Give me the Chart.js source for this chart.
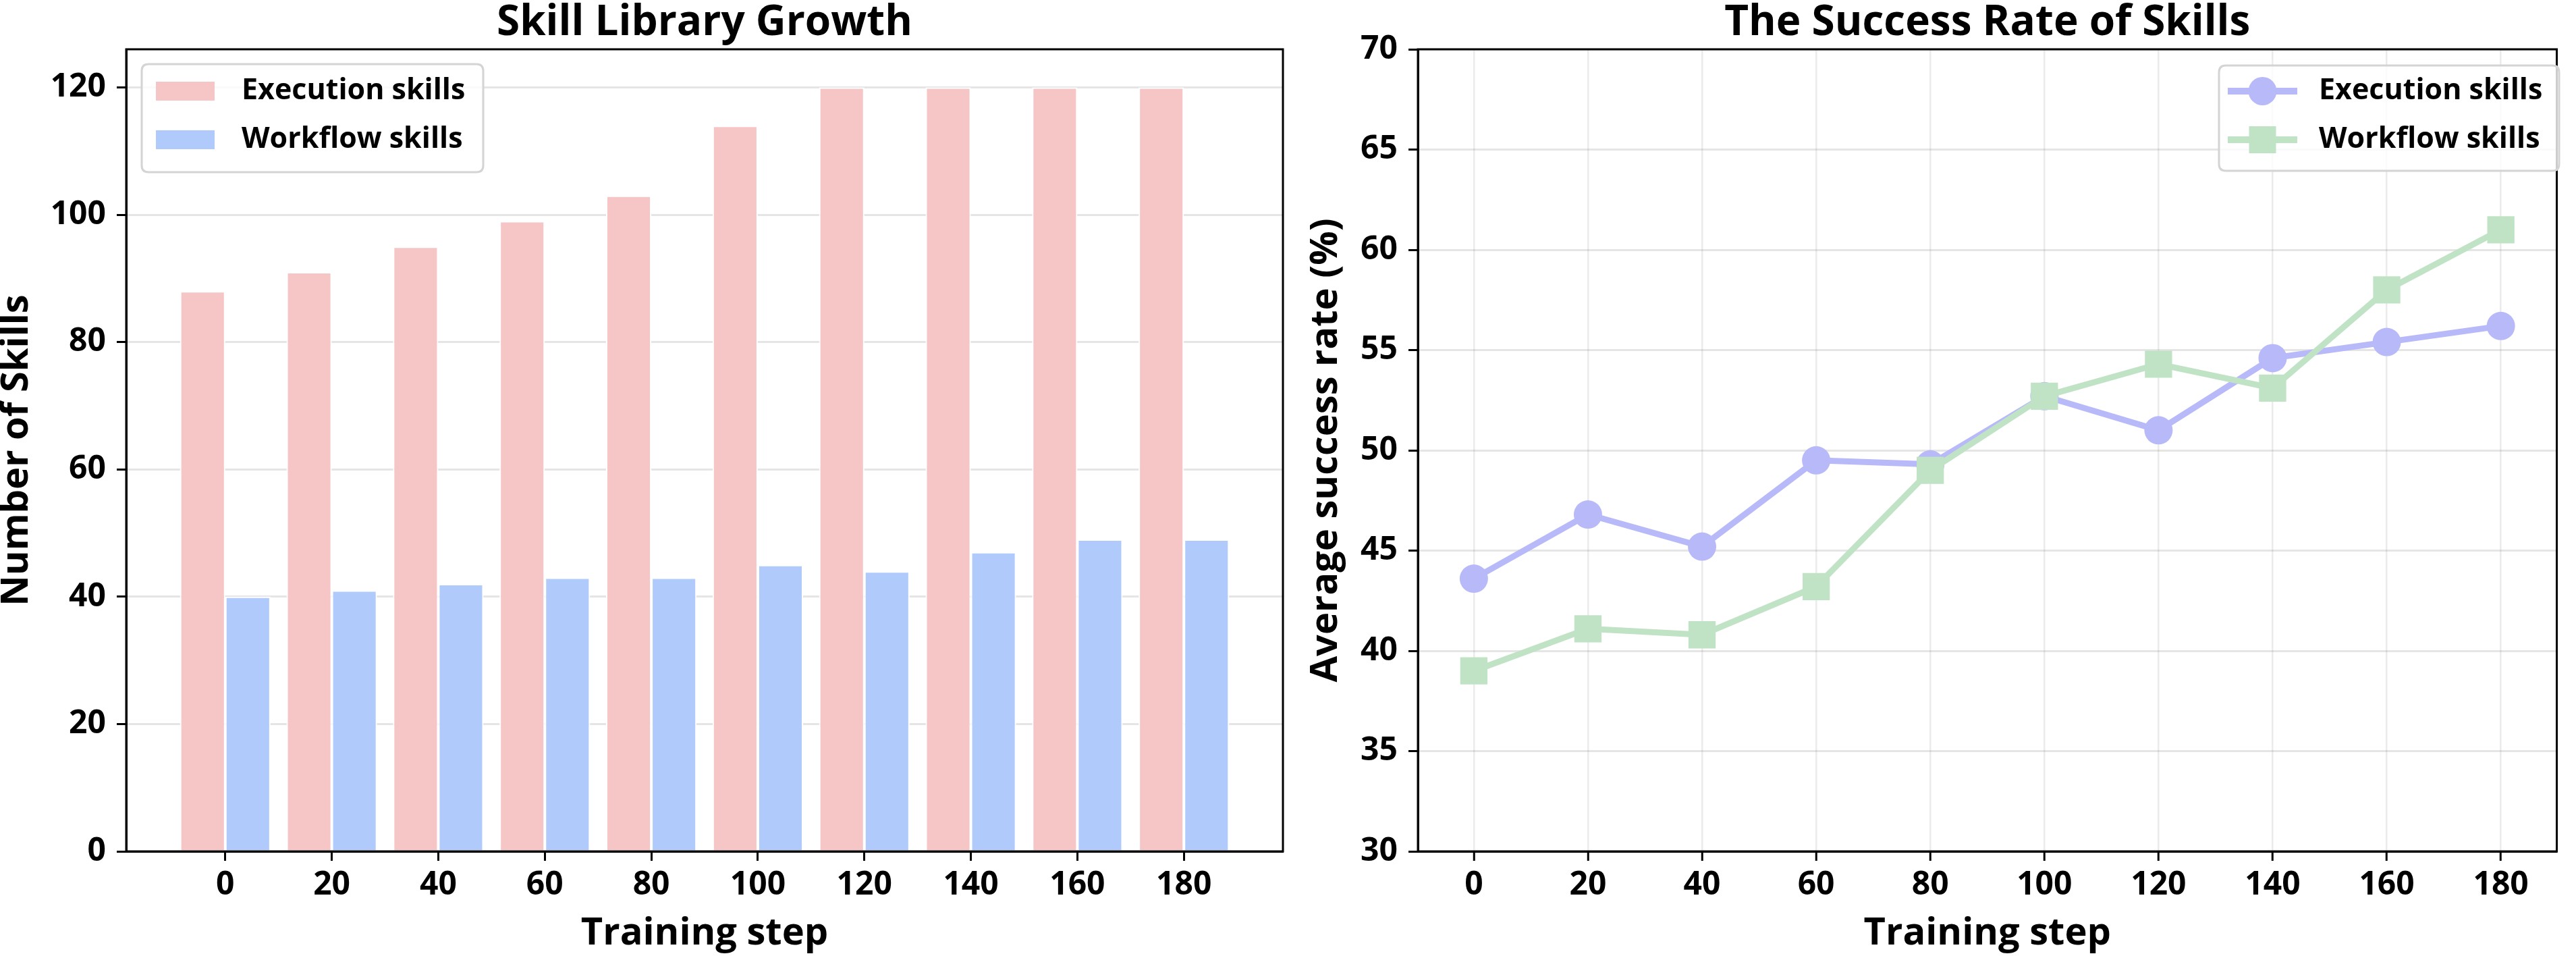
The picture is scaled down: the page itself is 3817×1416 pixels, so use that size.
<!DOCTYPE html>
<html><head><meta charset="utf-8">
<script src="https://cdn.jsdelivr.net/npm/chart.js@4.4.1/dist/chart.umd.min.js"></script>
<style>
html,body{margin:0;padding:0;background:#fff;}
body{width:3817px;height:1416px;position:relative;overflow:hidden;}
.box{position:absolute;top:0;height:1416px;}
#b1{left:0;width:1930px;}
#b2{left:1930px;width:1887px;}
canvas{display:block;}
</style></head><body>
<div class="box" id="b1"><canvas id="c1" width="1930" height="1416"></canvas></div>
<div class="box" id="b2"><canvas id="c2" width="1887" height="1416"></canvas></div>
<script>
// ---- data ----
const steps = ['0','20','40','60','80','100','120','140','160','180'];
const execSkills = [88, 91, 95, 99, 103, 114, 120, 120, 120, 120];
const workflowSkills = [40, 41, 42, 43, 43, 45, 44, 47, 49, 49];
const execRate = [43.6, 46.8, 45.2, 49.5, 49.3, 52.7, 51.0, 54.6, 55.4, 56.2];
const workflowRate = [39.0, 41.1, 40.8, 43.2, 49.0, 52.7, 54.3, 53.1, 58.0, 61.0];
const countTicks = [0, 20, 40, 60, 80, 100, 120];
const rateTicks = [30, 35, 40, 45, 50, 55, 60, 65, 70];
const seriesNames = ['Execution skills', 'Workflow skills'];

// ---- style ----
const FONT = "'Open Sans', 'DejaVu Sans', sans-serif";
const C_EXEC_BAR = '#F6C6C7';
const C_WF_BAR = '#B0CBFB';
const C_EXEC_LINE = '#B7B9F9';
const C_WF_LINE = '#C0E3C5';

const toXY = arr => arr.map((v, i) => ({x: i, y: v}));
const tickFont = {family: FONT, size: 48, weight: 'bold'};
const axisTitleFont = {family: FONT, size: 56, weight: 'bold', lineHeight: 0.9};

const titlePlugin = {
  id: 'ttl',
  afterDraw(chart, args, opts) {
    const ctx = chart.ctx, a = chart.chartArea;
    ctx.save();
    ctx.font = `bold 62px ${FONT}`;
    ctx.fillStyle = '#000';
    ctx.textAlign = 'center';
    ctx.textBaseline = 'alphabetic';
    ctx.fillText(opts.text, (a.left + a.right) / 2, 52);
    ctx.restore();
  }
};

const framePlugin = {
  id: 'frame',
  afterDraw(chart) {
    const ctx = chart.ctx, a = chart.chartArea;
    ctx.save();
    ctx.strokeStyle = '#000';
    ctx.lineWidth = 3;
    ctx.strokeRect(a.left, a.top, a.right - a.left, a.bottom - a.top);
    ctx.restore();
  }
};

function roundRect(ctx, x, y, w, h, r) {
  ctx.beginPath();
  ctx.moveTo(x + r, y);
  ctx.lineTo(x + w - r, y);
  ctx.quadraticCurveTo(x + w, y, x + w, y + r);
  ctx.lineTo(x + w, y + h - r);
  ctx.quadraticCurveTo(x + w, y + h, x + w - r, y + h);
  ctx.lineTo(x + r, y + h);
  ctx.quadraticCurveTo(x, y + h, x, y + h - r);
  ctx.lineTo(x, y + r);
  ctx.quadraticCurveTo(x, y, x + r, y);
  ctx.closePath();
}

const legendPlugin = {
  id: 'boxLegend',
  afterDraw(chart, args, o) {
    const ctx = chart.ctx;
    ctx.save();
    roundRect(ctx, o.x, o.y, o.w, o.h, 10);
    ctx.fillStyle = 'rgba(255,255,255,0.8)';
    ctx.fill();
    ctx.strokeStyle = '#d4d4d4';
    ctx.lineWidth = 3;
    ctx.stroke();
    chart.data.datasets.forEach((ds, i) => {
      const cy = o.rowY[i];
      const color = ds.legendColor;
      if (o.kind === 'bar') {
        ctx.fillStyle = color;
        ctx.fillRect(o.symX, cy - 14, o.symW, 28);
      } else {
        ctx.strokeStyle = color;
        ctx.lineWidth = 10;
        ctx.beginPath();
        ctx.moveTo(o.symX, cy);
        ctx.lineTo(o.symX + o.symW, cy);
        ctx.stroke();
        ctx.fillStyle = color;
        const mx = o.symX + o.symW / 2;
        if (ds.pointStyle === 'rect') {
          ctx.fillRect(mx - 20, cy - 20, 40, 40);
        } else {
          ctx.beginPath();
          ctx.arc(mx, cy, 21, 0, Math.PI * 2);
          ctx.fill();
        }
      }
      ctx.fillStyle = '#000';
      ctx.font = `bold 43px ${FONT}`;
      ctx.textAlign = 'left';
      ctx.textBaseline = 'middle';
      ctx.fillText(ds.label, o.textX, cy);
    });
    ctx.restore();
  }
};

// ---- left: bar chart ----
new Chart(document.getElementById('c1'), {
  type: 'bar',
  data: {
    datasets: [
      {label: seriesNames[0], data: toXY(execSkills), backgroundColor: C_EXEC_BAR, legendColor: C_EXEC_BAR,
       borderColor: '#ffffff', borderWidth: 2, borderSkipped: 'bottom'},
      {label: seriesNames[1], data: toXY(workflowSkills), backgroundColor: C_WF_BAR, legendColor: C_WF_BAR,
       borderColor: '#ffffff', borderWidth: 2, borderSkipped: 'bottom'}
    ]
  },
  options: {
    responsive: false,
    animation: false,
    devicePixelRatio: 1,
    layout: {padding: {top: 73, right: 29, left: 0, bottom: 0}},
    datasets: {bar: {categoryPercentage: 0.85, barPercentage: 1.0}},
    plugins: {
      legend: {display: false},
      tooltip: {enabled: false},
      title: {display: false},
      ttl: {text: 'Skill Library Growth'},
      boxLegend: {kind: 'bar', x: 210, y: 95, w: 506, h: 160, rowY: [135, 207], symX: 231, symW: 87, textX: 358}
    },
    scales: {
      x: {
        type: 'linear', min: -0.93, max: 9.93, offset: false,
        afterBuildTicks: s => { s.ticks = steps.map((_, i) => ({value: i})); },
        afterFit: s => { s.height = 155; },
        ticks: {callback: v => steps[v], autoSkip: false, maxRotation: 0, font: tickFont, color: '#000', padding: 8},
        grid: {offset: false, drawOnChartArea: false, tickLength: 14, tickWidth: 3, tickColor: '#000'},
        border: {display: true, color: '#000', width: 3},
        title: {display: true, text: 'Training step', font: axisTitleFont, color: '#000', padding: {top: 0, bottom: 8}}
      },
      y: {
        type: 'linear', min: 0, max: 126, z: 1,
        afterBuildTicks: s => { s.ticks = countTicks.map(v => ({value: v})); },
        afterFit: s => { s.width = 187; },
        ticks: {font: tickFont, color: '#000', padding: 16},
        grid: {color: 'rgba(0,0,0,0.1)', lineWidth: 3, tickLength: 14, tickWidth: 3, tickColor: '#000'},
        border: {display: true, color: '#000', width: 3},
        title: {display: true, text: 'Number of Skills', font: axisTitleFont, color: '#000', padding: {top: 0, bottom: 0}}
      }
    }
  },
  plugins: [framePlugin, titlePlugin, legendPlugin]
});

// ---- right: line chart ----
new Chart(document.getElementById('c2'), {
  type: 'line',
  data: {
    datasets: [
      {label: seriesNames[0], data: toXY(execRate), borderColor: C_EXEC_LINE, backgroundColor: C_EXEC_LINE, legendColor: C_EXEC_LINE,
       borderWidth: 9, pointStyle: 'circle', pointRadius: 21, pointBorderWidth: 0, pointBackgroundColor: C_EXEC_LINE, tension: 0, order: 1},
      {label: seriesNames[1], data: toXY(workflowRate), borderColor: C_WF_LINE, backgroundColor: C_WF_LINE, legendColor: C_WF_LINE,
       borderWidth: 9, pointStyle: 'rect', pointRadius: 28.5, pointBorderWidth: 0, pointBackgroundColor: C_WF_LINE, tension: 0, order: 0}
    ]
  },
  options: {
    responsive: false,
    animation: false,
    devicePixelRatio: 1,
    layout: {padding: {top: 73, right: 4, left: 0, bottom: 0}},
    plugins: {
      legend: {display: false},
      tooltip: {enabled: false},
      title: {display: false},
      ttl: {text: 'The Success Rate of Skills'},
      boxLegend: {kind: 'line', x: 1358, y: 97, w: 504, h: 156, rowY: [135, 207], symX: 1371, symW: 103, textX: 1506}
    },
    scales: {
      x: {
        type: 'linear', min: -0.49, max: 9.49,
        afterBuildTicks: s => { s.ticks = steps.map((_, i) => ({value: i})); },
        afterFit: s => { s.height = 155; },
        ticks: {callback: v => steps[v], autoSkip: false, maxRotation: 0, font: tickFont, color: '#000', padding: 8},
        grid: {color: 'rgba(0,0,0,0.08)', lineWidth: 2.5, tickLength: 14, tickWidth: 3, tickColor: '#000'},
        border: {display: true, color: '#000', width: 3},
        title: {display: true, text: 'Training step', font: axisTitleFont, color: '#000', padding: {top: 0, bottom: 8}}
      },
      y: {
        type: 'linear', min: 30, max: 70,
        afterBuildTicks: s => { s.ticks = rateTicks.map(v => ({value: v})); },
        afterFit: s => { s.width = 171; },
        ticks: {font: tickFont, color: '#000', padding: 16},
        grid: {color: 'rgba(0,0,0,0.1)', lineWidth: 3, tickLength: 14, tickWidth: 3, tickColor: '#000'},
        border: {display: true, color: '#000', width: 3},
        title: {display: true, text: 'Average success rate (%)', font: axisTitleFont, color: '#000', padding: {top: 10, bottom: 0}}
      }
    }
  },
  plugins: [framePlugin, titlePlugin, legendPlugin]
});
</script>
</body></html>
